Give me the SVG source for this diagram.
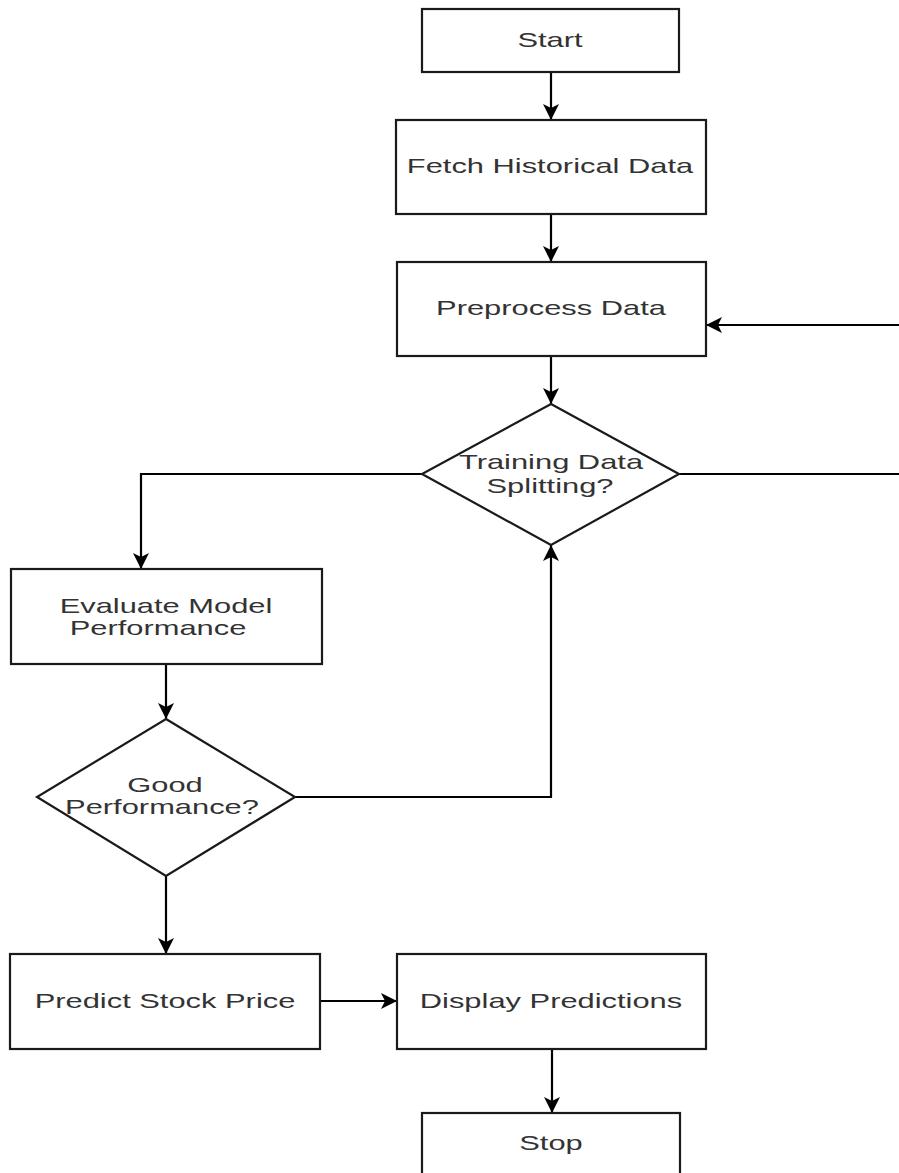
<svg xmlns="http://www.w3.org/2000/svg" width="899" height="1173" viewBox="0 0 899 1173">
<style>
.box{fill:#ffffff;stroke:#1a1a1a;stroke-width:2.2}
.lbl{font-family:"Liberation Sans",Arial,sans-serif;font-size:21px;fill:#333333;text-anchor:middle}
.conn{fill:none;stroke:#000000;stroke-width:2.2}
</style>
<defs>
<marker id="arr" viewBox="0 0 16 16" refX="16" refY="8" markerWidth="16" markerHeight="16" markerUnits="userSpaceOnUse" orient="auto">
<path d="M0,0 L16,8 L0,16 L4,8 z" fill="#000000"/>
</marker>
</defs>
<rect width="899" height="1173" fill="#ffffff"/>
<g id="connectors">
<path class="conn" d="M551,72 V120" marker-end="url(#arr)"/>
<path class="conn" d="M551,214 V262" marker-end="url(#arr)"/>
<path class="conn" d="M551,356 V404" marker-end="url(#arr)"/>
<path class="conn" d="M679,474 H910 V325 H706" marker-end="url(#arr)"/>
<path class="conn" d="M422,474 H141 V569" marker-end="url(#arr)"/>
<path class="conn" d="M166,664 V719" marker-end="url(#arr)"/>
<path class="conn" d="M295,797 H551 V545" marker-end="url(#arr)"/>
<path class="conn" d="M166,876 V954" marker-end="url(#arr)"/>
<path class="conn" d="M320,1001 H397" marker-end="url(#arr)"/>
<path class="conn" d="M552,1049 V1113" marker-end="url(#arr)"/>
</g>
<g id="start">
<rect class="box" x="422" y="9" width="257" height="63"/>
<text class="lbl" transform="translate(550,47) scale(1.47,1)">Start</text>
</g>
<g id="fetch">
<rect class="box" x="396" y="120" width="310" height="94"/>
<text class="lbl" transform="translate(550,173) scale(1.47,1)">Fetch Historical Data</text>
</g>
<g id="preprocess">
<rect class="box" x="397" y="262" width="309" height="94"/>
<text class="lbl" transform="translate(551,315) scale(1.47,1)">Preprocess Data</text>
</g>
<g id="split">
<polygon class="box" points="551,404 679,474 551,545 422,474"/>
<text class="lbl" transform="translate(551,469) scale(1.47,1)">Training Data</text>
<text class="lbl" transform="translate(550,493) scale(1.47,1)">Splitting?</text>
</g>
<g id="evaluate">
<rect class="box" x="11" y="569" width="311" height="95"/>
<text class="lbl" transform="translate(166,613) scale(1.47,1)">Evaluate Model</text>
<text class="lbl" transform="translate(158,635) scale(1.47,1)">Performance</text>
</g>
<g id="good">
<polygon class="box" points="166,719 295,797 166,876 37,797"/>
<text class="lbl" transform="translate(165,792) scale(1.47,1)">Good</text>
<text class="lbl" transform="translate(162,814) scale(1.47,1)">Performance?</text>
</g>
<g id="predict">
<rect class="box" x="10" y="954" width="310" height="95"/>
<text class="lbl" transform="translate(165,1008) scale(1.47,1)">Predict Stock Price</text>
</g>
<g id="display">
<rect class="box" x="397" y="954" width="309" height="95"/>
<text class="lbl" transform="translate(551,1008) scale(1.47,1)">Display Predictions</text>
</g>
<g id="stop">
<rect class="box" x="422" y="1113" width="258" height="80"/>
<text class="lbl" transform="translate(551,1150) scale(1.47,1)">Stop</text>
</g>
</svg>
